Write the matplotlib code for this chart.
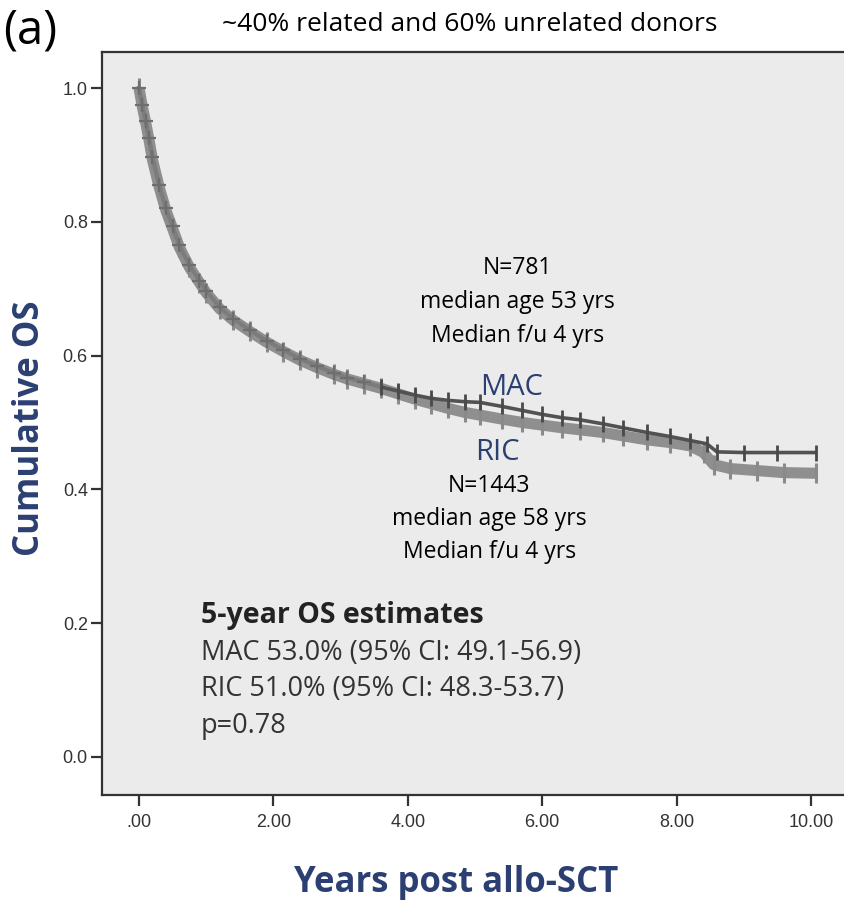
import matplotlib
matplotlib.use("Agg")
import matplotlib.pyplot as plt

# Kaplan-Meier overall survival, MAC vs RIC conditioning
mac_t = [0.00, 0.05, 0.10, 0.15, 0.20, 0.30, 0.40, 0.50, 0.60, 0.75, 0.90, 1.00,
         1.20, 1.40, 1.65, 1.90, 2.15, 2.40, 2.65, 2.90, 3.10, 3.35, 3.60, 3.85,
         4.10, 4.35, 4.60, 4.85, 5.07, 5.40, 5.70, 6.00, 6.30, 6.56, 6.90, 7.20,
         7.56, 7.90, 8.20, 8.45, 8.60, 9.00, 9.50, 10.08]
mac_s = [1.000, 0.975, 0.950, 0.925, 0.897, 0.855, 0.820, 0.793, 0.765, 0.735, 0.712, 0.697,
         0.672, 0.655, 0.638, 0.622, 0.608, 0.595, 0.584, 0.574, 0.567, 0.560, 0.553, 0.547,
         0.541, 0.536, 0.533, 0.531, 0.530, 0.524, 0.518, 0.512, 0.507, 0.504, 0.498, 0.492,
         0.485, 0.479, 0.473, 0.468, 0.456, 0.455, 0.455, 0.455]

ric_t = [0.00, 0.05, 0.10, 0.15, 0.20, 0.30, 0.40, 0.50, 0.60, 0.75, 0.90, 1.00,
         1.20, 1.40, 1.65, 1.90, 2.15, 2.40, 2.65, 2.90, 3.10, 3.35, 3.60, 3.85,
         4.10, 4.35, 4.60, 4.85, 5.07, 5.40, 5.70, 6.00, 6.30, 6.56, 6.90, 7.20,
         7.56, 7.90, 8.20, 8.40, 8.55, 8.80, 9.20, 9.60, 10.08]
ric_s = [1.000, 0.972, 0.948, 0.922, 0.893, 0.852, 0.817, 0.790, 0.762, 0.732, 0.709, 0.694,
         0.670, 0.653, 0.636, 0.620, 0.606, 0.593, 0.582, 0.572, 0.565, 0.558, 0.551, 0.543,
         0.535, 0.528, 0.521, 0.515, 0.511, 0.505, 0.500, 0.496, 0.492, 0.489, 0.485, 0.480,
         0.474, 0.470, 0.465, 0.455, 0.437, 0.431, 0.428, 0.425, 0.424]

x_ticks = [0, 2, 4, 6, 8, 10]
x_tick_labels = [".00", "2.00", "4.00", "6.00", "8.00", "10.00"]
y_ticks = [0.0, 0.2, 0.4, 0.6, 0.8, 1.0]
y_tick_labels = ["0.0", "0.2", "0.4", "0.6", "0.8", "1.0"]

mac_info = ["N=781", "median age 53 yrs", "Median f/u 4 yrs"]
ric_info = ["N=1443", "median age 58 yrs", "Median f/u 4 yrs"]
estimates = ["MAC 53.0% (95% CI: 49.1-56.9)", "RIC 51.0% (95% CI: 48.3-53.7)", "p=0.78"]

NAVY = "#2b3f72"
TXT = "Open Sans"
SPLIT = 22  # curves separate visibly after ~3.6 years

fig = plt.figure(figsize=(8.44, 9.0), dpi=100)
ax = fig.add_axes([0.1205, 0.1167, 0.8795, 0.8256])
ax.set_facecolor("#ebebeb")

# RIC: lighter, wider band with censor ticks
ax.plot(ric_t, ric_s, color="#8f8f8f", lw=8, solid_capstyle="butt")
ax.plot(ric_t, ric_s, ls="none", marker="|", ms=14, mew=2.2, color="#8a8a8a")
# MAC: same grey while overlapping, darker once it separates
ax.plot(mac_t[:SPLIT + 1], mac_s[:SPLIT + 1], color="#7c7c7c", lw=3)
ax.plot(mac_t[:SPLIT], mac_s[:SPLIT], ls="none", marker="+", ms=10, mew=1.6, color="#6e6e6e")
ax.plot(mac_t[SPLIT:], mac_s[SPLIT:], color="#525252", lw=2.6, solid_capstyle="butt")
ax.plot(mac_t[SPLIT:], mac_s[SPLIT:], ls="none", marker="|", ms=11, mew=2.0, color="#4a4a4a")

ax.set_xlim(-0.555, 10.49)
ax.set_ylim(-0.057, 1.054)
ax.set_xticks(x_ticks)
ax.set_xticklabels(x_tick_labels)
ax.set_yticks(y_ticks)
ax.set_yticklabels(y_tick_labels)
ax.tick_params(direction="out", length=8, width=1.6, color="#333333",
               labelsize=13, labelcolor="#333333")
ax.tick_params(axis="x", pad=6)
ax.tick_params(axis="y", pad=2)
for lab in ax.get_xticklabels() + ax.get_yticklabels():
    lab.set_family("Liberation Sans")

for side in ["left", "bottom", "top"]:
    ax.spines[side].set_color("#333333")
    ax.spines[side].set_linewidth(1.6)
ax.spines["right"].set_visible(False)

# group descriptions
for i, line in enumerate(mac_info):
    ax.text(5.63, 0.722 - i * 0.051, line, ha="center", va="baseline",
            family=TXT, fontsize=16.5, color="black")
ax.text(5.54, 0.541, "MAC", ha="center", va="baseline", family=TXT, fontsize=21, color=NAVY)
ax.text(5.33, 0.444, "RIC", ha="center", va="baseline", family=TXT, fontsize=21, color=NAVY)
for i, line in enumerate(ric_info):
    ax.text(5.21, 0.396 - i * 0.0495, line, ha="center", va="baseline",
            family=TXT, fontsize=16.5, color="black")

ax.text(0.92, 0.200, "5-year OS estimates", ha="left", va="baseline",
        family=TXT, fontweight="bold", fontsize=20.5, color="#222222")
for i, line in enumerate(estimates):
    ax.text(0.92, 0.145 - i * 0.0545, line, ha="left", va="baseline",
            family=TXT, fontsize=19.5, color="#333333")

fig.text(0.004, 0.966, "(a)", ha="left", va="center", family=TXT, fontsize=34, color="black")
fig.text(0.557, 0.973, "~40% related and 60% unrelated donors", ha="center", va="center",
         family=TXT, fontsize=19, color="black")
fig.text(0.541, 0.009, "Years post allo-SCT", ha="center", va="baseline",
         family=TXT, fontweight="bold", fontsize=25, color=NAVY)
fig.text(0.036, 0.524, "Cumulative OS", ha="center", va="center", rotation=90,
         family=TXT, fontweight="bold", fontsize=25, color=NAVY)

fig.savefig("out.png", dpi=100)
